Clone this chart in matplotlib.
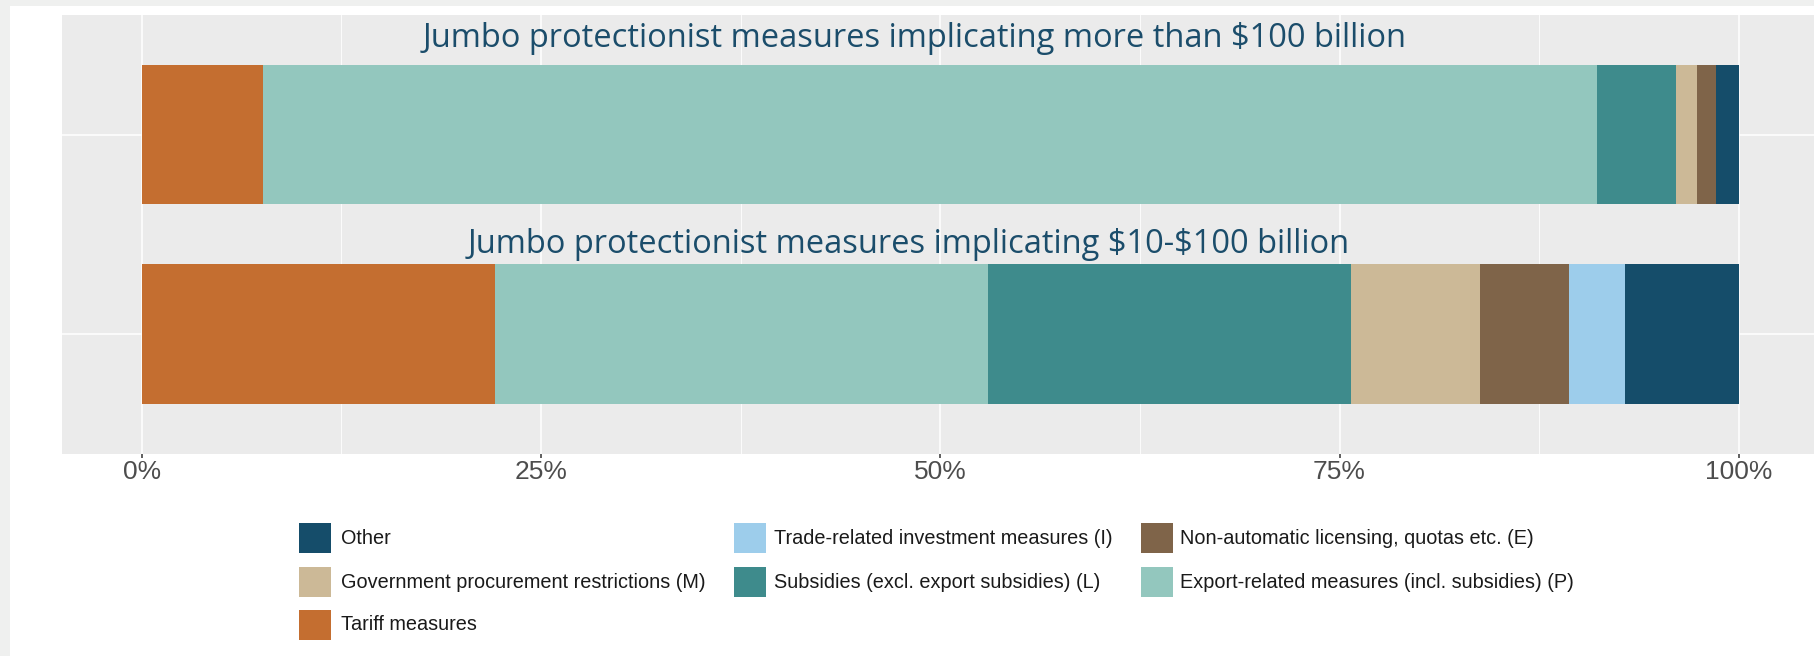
import matplotlib
matplotlib.use("Agg")
import matplotlib.pyplot as plt
from matplotlib.patches import Rectangle
import numpy as np

# ---------------- data ----------------
group_titles = [
    "Jumbo protectionist measures implicating $10-$100 billion",
    "Jumbo protectionist measures implicating more than $100 billion",
]
series_names = [
    "Tariff measures",
    "Export-related measures (incl. subsidies) (P)",
    "Subsidies (excl. export subsidies) (L)",
    "Government procurement restrictions (M)",
    "Non-automatic licensing, quotas etc. (E)",
    "Trade-related investment measures (I)",
    "Other",
]
tariff = [22.1, 7.6]
export_related = [30.9, 83.5]
subsidies = [22.7, 5.0]
gov_procurement = [8.1, 1.3]
non_automatic = [5.6, 1.2]
trims = [3.5, 0.0]
other = [7.1, 1.4]
series_values = [tariff, export_related, subsidies, gov_procurement,
                 non_automatic, trims, other]
series_colors = ["#C46E30", "#93C7BE", "#3E8B8C", "#CCB997",
                 "#7F6449", "#9DCDEB", "#154D6A"]
x_ticks = [0, 25, 50, 75, 100]
x_tick_labels = ["0%", "25%", "50%", "75%", "100%"]

# legend order (row-major as in reference)
legend_rows = [
    ["Other", "Trade-related investment measures (I)", "Non-automatic licensing, quotas etc. (E)"],
    ["Government procurement restrictions (M)", "Subsidies (excl. export subsidies) (L)",
     "Export-related measures (incl. subsidies) (P)"],
    ["Tariff measures"],
]

# ---------------- figure ----------------
W, H = 1814, 656
fig = plt.figure(figsize=(W / 100, H / 100), dpi=100, facecolor="#EFF0EF")
fig.patches.append(Rectangle((10 / W, 0), 1 - 10 / W, (H - 6) / H,
                             transform=fig.transFigure, facecolor="white",
                             edgecolor="none", zorder=-10))

def px(x, y):
    return x / W, (H - y) / H

ax_left, ax_right, ax_top, ax_bot = 62, 1818.6, 15, 453.7
ax = fig.add_axes([ax_left / W, (H - ax_bot) / H,
                   (ax_right - ax_left) / W, (ax_bot - ax_top) / H])
ax.set_facecolor("#EBEBEB")
for s in ax.spines.values():
    s.set_visible(False)

ax.set_xlim(-5, 105)
ax.set_ylim(-0.6, 1.6)

# gridlines
for xv in [12.5, 37.5, 62.5, 87.5]:
    ax.axvline(xv, color="white", lw=0.6, zorder=0)
for xv in x_ticks:
    ax.axvline(xv, color="white", lw=1.1, zorder=0)
for yv in [0, 1]:
    ax.axhline(yv, color="white", lw=1.1, zorder=0)

# stacked bars
ypos = np.arange(len(group_titles))
vals = np.array(series_values, dtype=float)
vals = vals / vals.sum(axis=0) * 100
left = np.zeros(len(group_titles))
for name, v, c in zip(series_names, vals, series_colors):
    ax.barh(ypos, v, left=left, height=0.7, color=c, edgecolor="none", zorder=2)
    left += v

ax.set_xticks(x_ticks)
ax.set_xticklabels(x_tick_labels)
ax.set_yticks([])
ax.tick_params(axis="x", length=3, width=1.1, color="#333333", pad=1.5,
               labelcolor="#4D4D4D")
for lab in ax.get_xticklabels():
    lab.set_fontfamily("Liberation Sans")
    lab.set_fontsize(19)

renderer = fig.canvas.get_renderer()

def fit(t, target_w):
    bb = t.get_window_extent(renderer)
    t.set_fontsize(t.get_fontsize() * target_w / bb.width)
    return t.get_fontsize()

# group titles
title_color = "#1B4D6B"
t_top = ax.text(48.4, 1.44, group_titles[1], ha="center", va="baseline",
                fontsize=24, color=title_color, family="Open Sans", zorder=3,
                parse_math=False)
fs = fit(t_top, 987)
t_bot = ax.text(48.0, 0.407, group_titles[0], ha="center", va="baseline",
                fontsize=fs, color=title_color, family="Open Sans", zorder=3,
                parse_math=False)

# legend (manual)
color_of = dict(zip(series_names, series_colors))
col_sq_x = [298.5, 733.5, 1141]
col_tx_x = [341, 774, 1180]
row_y = [538, 582, 625]
sq_w, sq_h = 32, 30
probe = fig.text(0, 0, "Government procurement restrictions (M)",
                 fontsize=14, family="Liberation Sans")
lfs = fit(probe, 366)
probe.remove()
for r, row in enumerate(legend_rows):
    for c, name in enumerate(row):
        x0, y0 = px(col_sq_x[c], row_y[r] + sq_h / 2)
        fig.patches.append(Rectangle((x0, y0), sq_w / W, sq_h / H,
                                     transform=fig.transFigure,
                                     facecolor=color_of[name], edgecolor="none"))
        tx, ty = px(col_tx_x[c], row_y[r])
        fig.text(tx, ty, name, ha="left", va="center", fontsize=lfs,
                 family="Liberation Sans", color="#1A1A1A")

fig.savefig("out.png", dpi=100, facecolor=fig.get_facecolor())
